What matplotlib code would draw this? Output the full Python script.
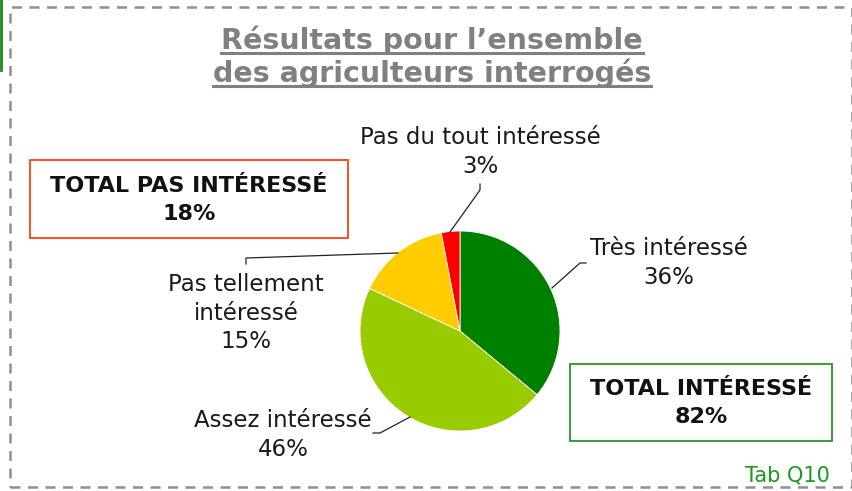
"""Pie chart: interest of surveyed farmers (Tab Q10)."""

import matplotlib

matplotlib.use("Agg")
import matplotlib.pyplot as plt
from matplotlib.patches import Rectangle

plt.rcParams["font.family"] = ["DejaVu Sans"]

W, H = 853, 491

# Data
categories = ["Très intéressé", "Assez intéressé",
              "Pas tellement\nintéressé", "Pas du tout intéressé"]
shares = [36, 46, 15, 3]
colors = ["#008000", "#99CC00", "#FFCC00", "#FF0000"]
total_labels = ["TOTAL PAS INTÉRESSÉ", "TOTAL INTÉRESSÉ"]
total_values = [shares[2] + shares[3], shares[0] + shares[1]]
title_lines = ["Résultats pour l\u2019ensemble", "des agriculteurs interrogés"]
source_note = "Tab Q10"


def y(py):
    """Convert a top-down pixel row into axis units."""
    return H - py


fig = plt.figure(figsize=(W / 100, H / 100), dpi=100)
ax = fig.add_axes([0, 0, 1, 1])

# pie
cx, cy, r = 460, y(331), 100
ax.pie(shares, colors=colors, startangle=90, counterclock=False,
       center=(cx, cy), radius=r, frame=True,
       wedgeprops=dict(linewidth=0.6, edgecolor="white"))
ax.set_xlim(0, W)
ax.set_ylim(0, H)
ax.set_aspect("equal")
ax.axis("off")

# dashed frame and green edge mark
ax.add_patch(Rectangle((10, y(487)), 842, 480, fill=False, ec="#909090",
                       lw=1.8, ls=(0, (4, 3))))
ax.plot([1, 1], [y(0), y(70)], color="#1a8a1a", lw=2)

# slice labels with leader lines
lab_kw = dict(ha="center", va="center", fontsize=16.5, color="#1a1a1a",
              linespacing=1.3)
ax.text(669, y(263), f"{categories[0]}\n{shares[0]}%", **lab_kw)
ax.text(283, y(435), f"{categories[1]}\n{shares[1]}%", **lab_kw)
ax.text(246, y(313), f"{categories[2]}\n{shares[2]}%", **lab_kw)
ax.text(480, y(152), f"{categories[3]}\n{shares[3]}%", **lab_kw)

lk = dict(color="#222222", lw=0.9)
ax.plot([552, 580, 586], [y(288), y(263), y(263)], **lk)
ax.plot([410, 380, 373], [y(417), y(433), y(433)], **lk)
ax.plot([398, 246, 246], [y(253), y(258), y(264)], **lk)
ax.plot([450, 480, 480], [y(232), y(190), y(184)], **lk)

# total boxes
box_kw = dict(ha="center", va="center", fontsize=16, fontweight="bold",
              color="#111111", linespacing=1.5)
ax.add_patch(Rectangle((30, y(238)), 318, 78, fill=False, ec="#FF4010", lw=1.3))
ax.text(189, y(200), f"{total_labels[0]}\n{total_values[0]}%", **box_kw)
ax.add_patch(Rectangle((570, y(441)), 262, 77, fill=False, ec="#229922", lw=1.3))
ax.text(701, y(403), f"{total_labels[1]}\n{total_values[1]}%", **box_kw)

ax.text(830, y(476), source_note, ha="right", va="center", fontsize=15,
        color="#1a9a1a")

# underlined title
fig.canvas.draw()
renderer = fig.canvas.get_renderer()
for line, py in zip(title_lines, [40, 73]):
    t = ax.text(432, y(py), line, ha="center", va="center", fontsize=20.5,
                fontweight="bold", color="#808080")
    bb = t.get_window_extent(renderer)
    ax.plot([bb.x0, bb.x1], [y(py + 13), y(py + 13)], color="#808080", lw=2.2)

fig.savefig("out.png", dpi=100)
